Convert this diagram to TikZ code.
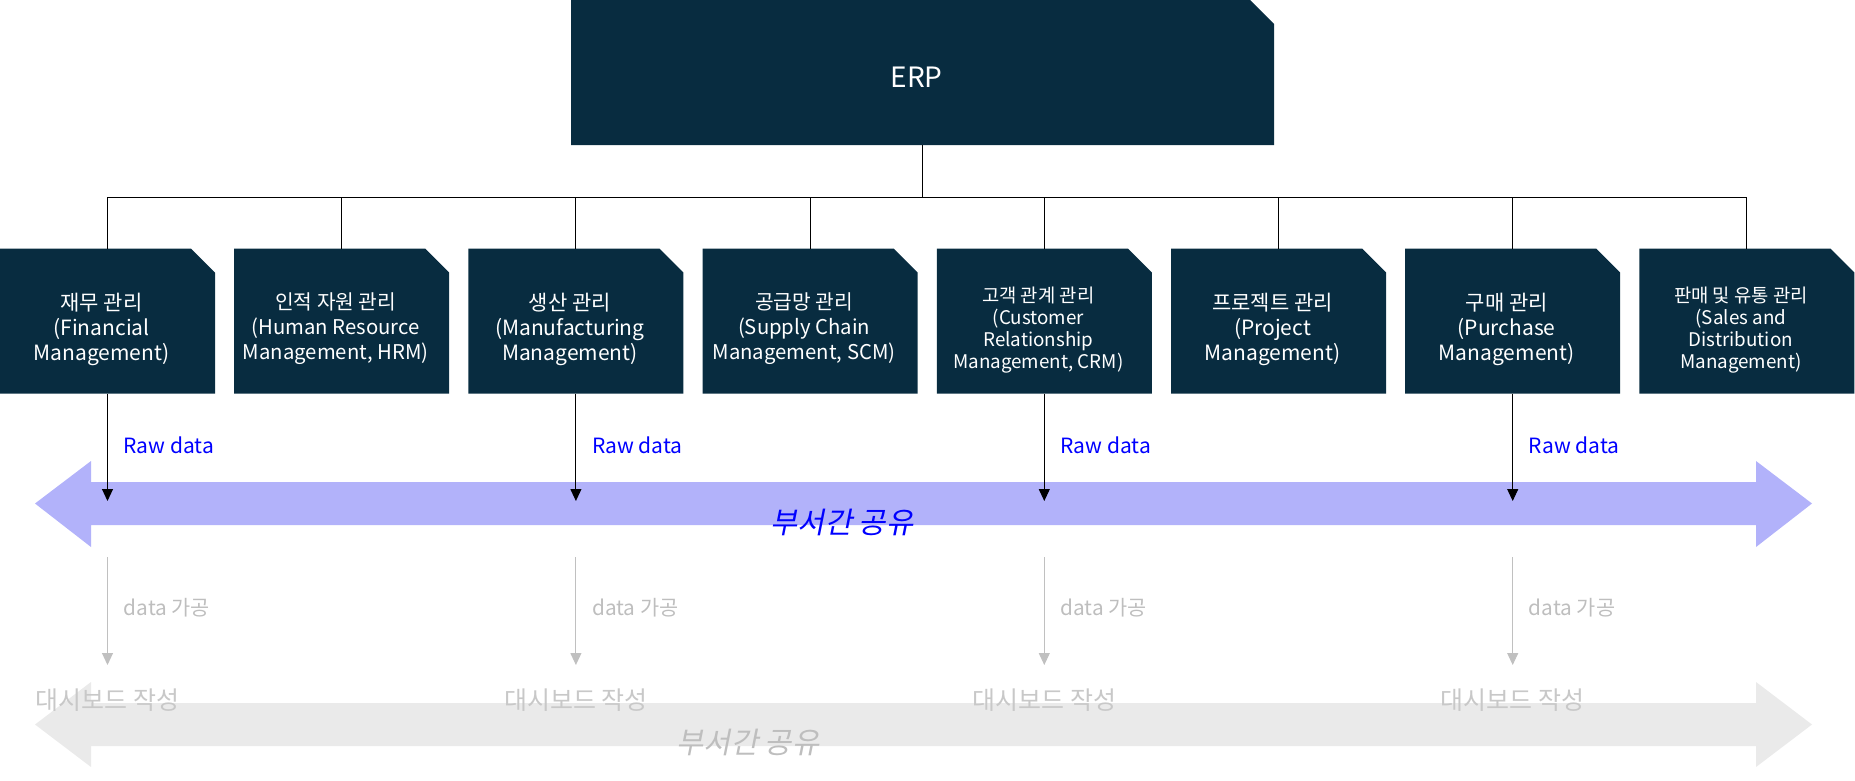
\documentclass[tikz,border=0pt]{standalone}
\usepackage{fontspec}
\setmainfont{Noto Sans CJK KR}
\newfontfamily\slantkr[FakeSlant=0.2]{Noto Sans CJK KR}
\usepackage{tikz}
\definecolor{erpnavy}{RGB}{8,44,64}
\definecolor{erplav}{RGB}{178,178,250}
\definecolor{erpblue}{RGB}{0,0,255}
\definecolor{erpgray}{RGB}{192,192,192}
\definecolor{erpfog}{RGB}{234,234,234}
\definecolor{erptxt}{RGB}{190,190,190}
\usetikzlibrary{arrows.meta}

\tikzset{
  modbox/.style={rectangle, minimum width=215pt, minimum height=145pt, inner sep=0pt, outer sep=0pt,
    append after command={\pgfextra{\fill[erpnavy] (\tikzlastnode.south west) -- (\tikzlastnode.north west)
      -- ([xshift=-24pt]\tikzlastnode.north east) -- ([yshift=-24pt]\tikzlastnode.north east)
      -- (\tikzlastnode.south east) -- cycle;}}},
  modtext/.style={text=white, align=center, inner sep=0pt, font=\fontsize{21}{25}\selectfont},
  modsmall/.style={modtext, font=\fontsize{20.3}{25}\selectfont},
  modtight/.style={modtext, font=\fontsize{18.8}{22}\selectfont},
  treeline/.style={draw=black, line width=1pt},
  rawarrow/.style={draw=black, line width=1pt, -{Triangle[width=11pt,length=12pt]}},
  procarrow/.style={draw=erpgray, line width=1pt, -{Triangle[width=11pt,length=12pt]}},
  rawlabel/.style={anchor=west, inner sep=0pt, text=erpblue, font=\fontsize{21}{24}\selectfont},
  proclabel/.style={anchor=west, inner sep=0pt, text=erptxt, font=\fontsize{20.8}{24}\selectfont},
  dashlabel/.style={inner sep=0pt, text=erptxt!85, font=\fontsize{25}{28}\selectfont},
  sharelabel/.style={inner sep=0pt, font=\fontsize{29.5}{32}\slantkr}
}

\begin{document}
\begin{tikzpicture}[x=1pt, y=-1pt]
  \useasboundingbox (0,0) rectangle (1855,780);

  %% Top box
  \node[modbox, minimum width=703pt, minimum height=145pt] (erp) at (922.5,72.5) {};
  \node[modtext, font=\fontsize{28}{30}\selectfont] (erp-t) at (916.5,77) {ERP};

  %% Module boxes
  \node[modbox] (fin) at (107.5,321) {};
  \node[modbox] (hrm) at (341.7,321) {};
  \node[modbox] (mfg) at (575.9,321) {};
  \node[modbox] (scm) at (810.1,321) {};
  \node[modbox] (crm) at (1044.3,321) {};
  \node[modbox] (prj) at (1278.5,321) {};
  \node[modbox] (pur) at (1512.7,321) {};
  \node[modbox] (sal) at (1746.9,321) {};

  \node[modtext]  (fin-t) at (101.5,329)  {재무 관리\\(Financial\\Management)};
  \node[modsmall] (hrm-t) at (335.7,329)  {인적 자원 관리\\(Human Resource\\Management, HRM)};
  \node[modtext]  (mfg-t) at (569.9,329)  {생산 관리\\(Manufacturing\\Management)};
  \node[modsmall] (scm-t) at (804.1,329)  {공급망 관리\\(Supply Chain\\Management, SCM)};
  \node[modtight] (crm-t) at (1038.3,330) {고객 관계 관리\\(Customer\\Relationship\\Management, CRM)};
  \node[modtext]  (prj-t) at (1272.5,329) {프로젝트 관리\\(Project\\Management)};
  \node[modtext]  (pur-t) at (1506.7,329) {구매 관리\\(Purchase\\Management)};
  \node[modtight] (sal-t) at (1740.9,330) {판매 및 유통 관리\\(Sales and\\Distribution\\Management)};

  %% Tree lines
  \draw[treeline] (erp.south) -- ++(0,52) coordinate (bus);
  \draw[treeline] (fin.north) |- (bus);
  \draw[treeline] (hrm.north) |- (bus);
  \draw[treeline] (mfg.north) |- (bus);
  \draw[treeline] (scm.north) |- (bus);
  \draw[treeline] (crm.north) |- (bus);
  \draw[treeline] (prj.north) |- (bus);
  \draw[treeline] (pur.north) |- (bus);
  \draw[treeline] (sal.north) |- (bus);

  %% Sharing arrows
  \fill[erplav] (35,503.5) -- (91,461) -- (91,482) -- (1756,482) -- (1756,461) -- (1812,503.5)
    -- (1756,547) -- (1756,525) -- (91,525) -- (91,547) -- cycle;
  \fill[erpfog] (35,724.5) -- (91,682) -- (91,703) -- (1756,703) -- (1756,682) -- (1812,724.5)
    -- (1756,767) -- (1756,746) -- (91,746) -- (91,767) -- cycle;

  %% Data flow columns
  \coordinate (fin-in) at (107.5,501);   \coordinate (fin-out) at (107.5,557);   \coordinate (fin-dash) at (107.5,665);
  \coordinate (mfg-in) at (575.9,501);   \coordinate (mfg-out) at (575.9,557);   \coordinate (mfg-dash) at (575.9,665);
  \coordinate (crm-in) at (1044.3,501);  \coordinate (crm-out) at (1044.3,557);  \coordinate (crm-dash) at (1044.3,665);
  \coordinate (pur-in) at (1512.7,501);  \coordinate (pur-out) at (1512.7,557);  \coordinate (pur-dash) at (1512.7,665);

  \draw[rawarrow] (fin.south) -- (fin-in);
  \draw[rawarrow] (mfg.south) -- (mfg-in);
  \draw[rawarrow] (crm.south) -- (crm-in);
  \draw[rawarrow] (pur.south) -- (pur-in);

  \draw[procarrow] (fin-out) -- (fin-dash);
  \draw[procarrow] (mfg-out) -- (mfg-dash);
  \draw[procarrow] (crm-out) -- (crm-dash);
  \draw[procarrow] (pur-out) -- (pur-dash);

  \node[rawlabel] (fin-raw) at (123.5,445)  {Raw data};
  \node[rawlabel] (mfg-raw) at (591.9,445)  {Raw data};
  \node[rawlabel] (crm-raw) at (1060.3,445) {Raw data};
  \node[rawlabel] (pur-raw) at (1528.7,445) {Raw data};

  \node[proclabel] (fin-proc) at (123.5,608)  {data 가공};
  \node[proclabel] (mfg-proc) at (591.9,608)  {data 가공};
  \node[proclabel] (crm-proc) at (1060.3,608) {data 가공};
  \node[proclabel] (pur-proc) at (1528.7,608) {data 가공};

  \node[dashlabel] (fin-board) at (107.5,700)  {대시보드 작성};
  \node[dashlabel] (mfg-board) at (575.9,700)  {대시보드 작성};
  \node[dashlabel] (crm-board) at (1044.3,700) {대시보드 작성};
  \node[dashlabel] (pur-board) at (1512.7,700) {대시보드 작성};

  %% Sharing labels
  \node[sharelabel, text=erpblue] (share-t) at (842,522) {부서간 공유};
  \node[sharelabel, text=erptxt]  (board-t) at (748,742) {부서간 공유};
\end{tikzpicture}
\end{document}
